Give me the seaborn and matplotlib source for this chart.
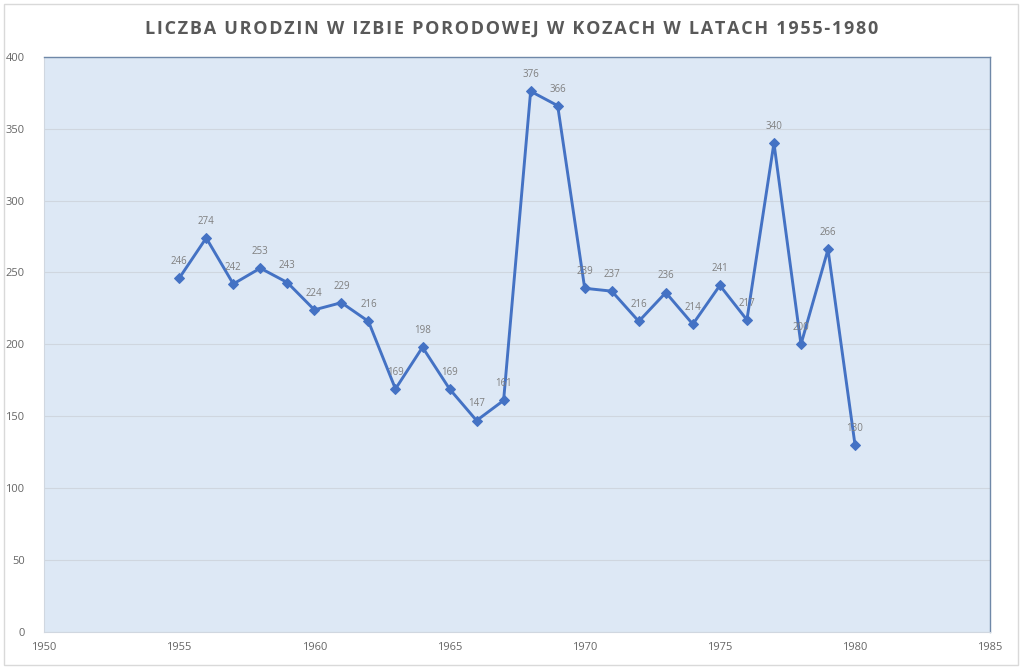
import matplotlib
matplotlib.use("Agg")
import matplotlib.pyplot as plt
import seaborn as sns
import pandas as pd
from matplotlib.patches import Rectangle

# data
years = [1955, 1956, 1957, 1958, 1959, 1960, 1961, 1962, 1963, 1964, 1965, 1966, 1967,
         1968, 1969, 1970, 1971, 1972, 1973, 1974, 1975, 1976, 1977, 1978, 1979, 1980]
births = [246, 274, 242, 253, 243, 224, 229, 216, 169, 198, 169, 147, 161,
          376, 366, 239, 237, 216, 236, 214, 241, 217, 340, 200, 266, 130]
x_ticks = [1950, 1955, 1960, 1965, 1970, 1975, 1980, 1985]
y_ticks = [0, 50, 100, 150, 200, 250, 300, 350, 400]
title = "LICZBA URODZIN W IZBIE PORODOWEJ W KOZACH W LATACH 1955-1980"

df = pd.DataFrame({"rok": years, "urodzenia": births})

sns.set_style("white")
plt.rcParams["font.family"] = ["Open Sans", "DejaVu Sans"]

fig = plt.figure(figsize=(10.24, 6.68), dpi=100)
ax = fig.add_axes([0.043, 0.054, 0.924, 0.861])

line_col = "#4472C4"
sns.lineplot(data=df, x="rok", y="urodzenia", ax=ax, color=line_col, linewidth=2.1,
             marker="D", markersize=5.5, markeredgecolor=line_col, zorder=3)

for x, y in zip(years, births):
    ax.annotate(str(y), (x, y), xytext=(0, 8), textcoords="offset points",
                ha="center", va="bottom", fontsize=7, color="#7f7f7f", zorder=4)

ax.set_facecolor("#DDE8F5")
ax.set_xlim(1950, 1985)
ax.set_ylim(0, 400)
ax.set_xticks(x_ticks)
ax.set_yticks(y_ticks)
ax.grid(axis="y", color="#cfd6df", linewidth=0.8)
ax.set_axisbelow(True)
ax.tick_params(axis="both", length=0, labelsize=8, labelcolor="#666666")
ax.tick_params(axis="x", pad=7)
ax.tick_params(axis="y", pad=14)
ax.set_xlabel("")
ax.set_ylabel("")
for s in ["top", "right"]:
    ax.spines[s].set_visible(True)
    ax.spines[s].set_color("#6f88a8")
    ax.spines[s].set_linewidth(1)
for s in ["left", "bottom"]:
    ax.spines[s].set_color("#d0d7e0")
    ax.spines[s].set_linewidth(0.8)

# letter-spaced title (hair spaces between characters)
spaced = "\u200a".join(title)
fig.text(0.5, 0.957, spaced, ha="center", va="center", fontsize=13,
         fontweight="bold", color="#595959")

# outer frame
fig.patches.append(Rectangle((0.004, 0.004), 0.99, 0.99, transform=fig.transFigure,
                             fill=False, edgecolor="#d9d9d9", linewidth=1))

fig.savefig("out.png", dpi=100)
plt.close(fig)
